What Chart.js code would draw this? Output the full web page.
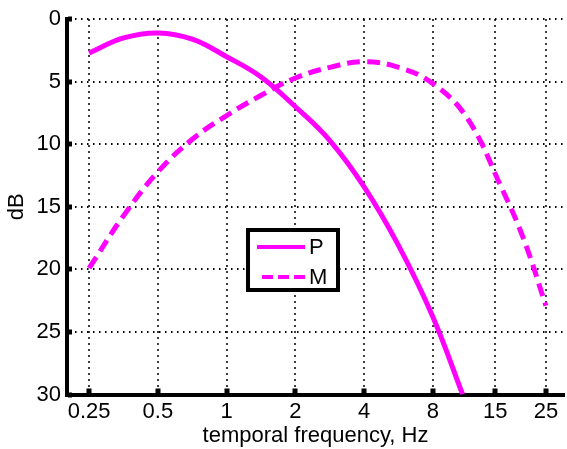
<!DOCTYPE html>
<html>
<head>
<meta charset="utf-8">
<script src="https://cdn.jsdelivr.net/npm/chart.js@4"></script>
<style>
html,body{margin:0;padding:0;background:#fff;}
#wrap{width:567px;height:449px;position:relative;}
canvas{display:block;}
</style>
</head>
<body>
<div id="wrap"><canvas id="c" width="567" height="449"></canvas></div>
<script>
// ---- data ----
const xTickValues = [0.25, 0.5, 1, 2, 4, 8, 15, 25];
const yTickStep = 5;
const seriesNames = ['P', 'M'];

const pFreq = [0.25, 0.354, 0.5, 0.707, 1, 1.41, 2, 2.83, 4, 5.66, 8, 10.8];
const pDb   = [2.7, 1.5, 1.1, 1.6, 3.0, 4.6, 7.0, 9.7, 13.4, 18.1, 23.8, 30];

const mFreq = [0.25, 0.354, 0.5, 0.707, 1, 1.41, 2, 2.83, 4, 5.66, 8, 11.3, 16, 20, 25];
const mDb   = [19.9, 15.7, 12.2, 9.6, 7.7, 6.1, 4.7, 3.85, 3.4, 3.85, 5.15, 7.9, 13.5, 17.6, 22.9];

const FONT = "'Liberation Sans', Arial, sans-serif";
const FSIZE = 22;
const MAGENTA = '#ff00ff';

const toPts = (xs, ys) => xs.map((x, i) => ({x: x, y: ys[i]}));

// legend + inward tick marks
const decorPlugin = {
  id: 'decor',
  afterDraw(chart) {
    const ctx = chart.ctx;
    const xs = chart.scales.x, ys = chart.scales.y;
    const ca = chart.chartArea;
    ctx.save();
    ctx.fillStyle = '#000';
    xs.ticks.forEach(t => {
      const px = xs.getPixelForValue(t.value);
      ctx.fillRect(Math.round(px) - 2.5, ca.bottom - 6, 5, 5);
    });
    ys.ticks.forEach(t => {
      const py = ys.getPixelForValue(t.value);
      ctx.fillRect(ca.left + 1, Math.round(py) - 2.5, 4, 5);
    });
    // legend box
    const bx = 248, by = 230, bw = 90, bh = 60;
    ctx.fillStyle = '#fff';
    ctx.fillRect(bx, by, bw, bh);
    ctx.lineWidth = 4;
    ctx.strokeStyle = '#000';
    ctx.strokeRect(bx, by, bw, bh);
    const ds = chart.data.datasets;
    const rows = [247, 277];
    ds.forEach((d, i) => {
      ctx.beginPath();
      ctx.strokeStyle = d.borderColor;
      ctx.lineWidth = 4;
      ctx.setLineDash(d.borderDash ? [11, 5] : []);
      ctx.moveTo(d.borderDash ? 262 : 257, rows[i]);
      ctx.lineTo(305, rows[i]);
      ctx.stroke();
      ctx.setLineDash([]);
      ctx.fillStyle = '#000';
      ctx.font = FSIZE + 'px ' + FONT;
      ctx.textBaseline = 'middle';
      ctx.textAlign = 'left';
      ctx.fillText(d.label, 309, rows[i] + 1);
    });
    ctx.restore();
  }
};

new Chart(document.getElementById('c'), {
  type: 'line',
  data: {
    datasets: [
      {label: seriesNames[0], data: toPts(pFreq, pDb), borderColor: MAGENTA, borderWidth: 5,
       pointRadius: 0, fill: false, tension: 0.4},
      {label: seriesNames[1], data: toPts(mFreq, mDb), borderColor: MAGENTA, borderWidth: 5,
       borderDash: [13, 7], pointRadius: 0, fill: false, tension: 0.4}
    ]
  },
  options: {
    responsive: false,
    animation: false,
    devicePixelRatio: 1,
    layout: {padding: {top: 19, right: 3, left: 0, bottom: 0}},
    plugins: {legend: {display: false}, tooltip: {enabled: false}},
    scales: {
      x: {
        type: 'logarithmic', min: 0.2, max: 30,
        afterBuildTicks: s => { s.ticks = xTickValues.map(v => ({value: v})); },
        afterFit: s => { s.height = 54.5; },
        ticks: {autoSkip: false, maxRotation: 0, minRotation: 0, color: '#000', padding: 4,
                font: {size: FSIZE, family: FONT}, callback: v => String(v)},
        grid: {color: '#000', lineWidth: 2, drawTicks: false},
        border: {display: true, color: '#000', width: 4, dash: [1.5, 4.5]},
        title: {display: true, text: 'temporal frequency, Hz', color: '#000',
                font: {size: FSIZE, family: FONT}, padding: {top: 0, bottom: 0}}
      },
      y: {
        type: 'linear', reverse: true, min: 0, max: 30,
        afterFit: s => { s.width = 67; },
        ticks: {stepSize: yTickStep, color: '#000', padding: 6, font: {size: FSIZE, family: FONT}},
        grid: {color: '#000', lineWidth: 2, drawTicks: false},
        border: {display: true, color: '#000', width: 4, dash: [1.5, 4.5]},
        title: {display: true, text: 'dB', color: '#000',
                font: {size: FSIZE, family: FONT}, padding: {top: 4, bottom: 0}}
      }
    }
  },
  plugins: [decorPlugin]
});
</script>
</body>
</html>
